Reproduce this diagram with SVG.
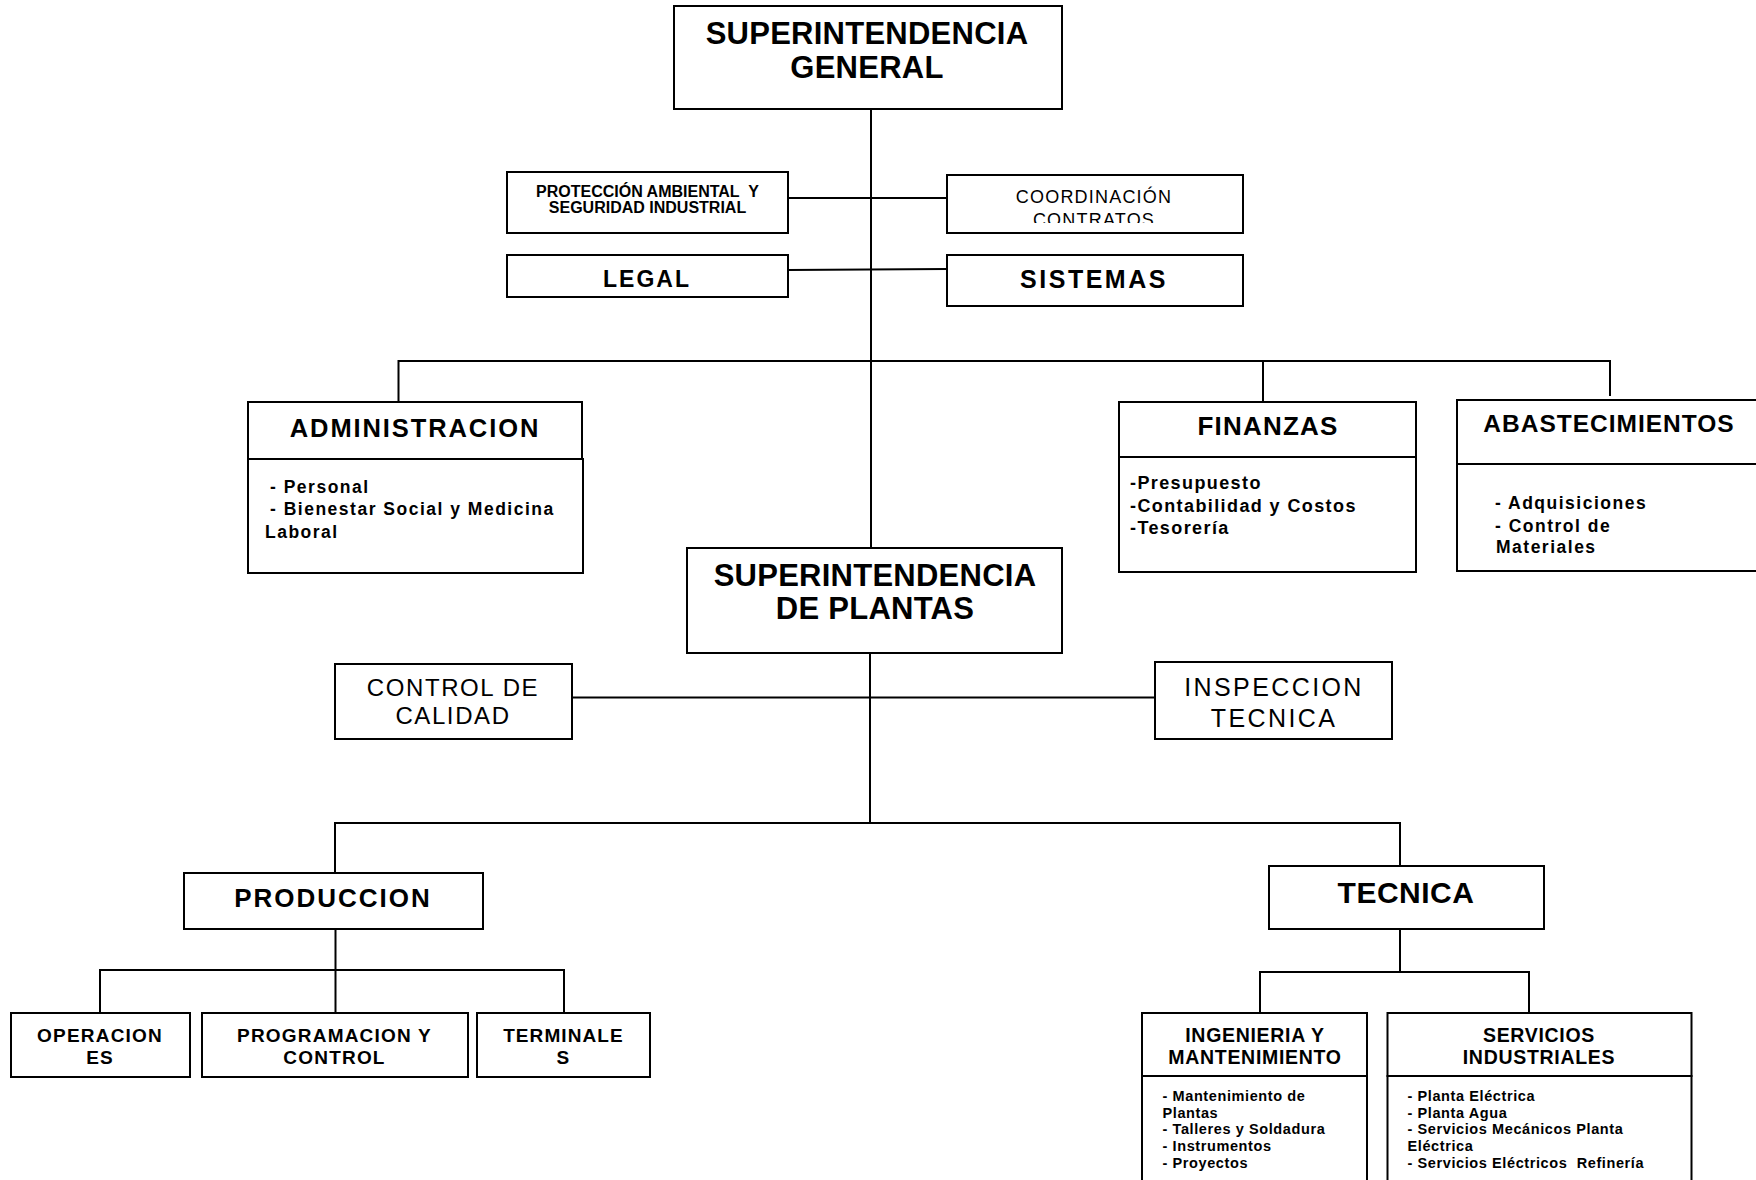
<svg xmlns="http://www.w3.org/2000/svg" width="1756" height="1180" viewBox="0 0 1756 1180">
  <style>
    .box { fill: #fff; stroke: #000; stroke-width: 2; }
    .wire { fill: none; stroke: #000; stroke-width: 2; }
    text { font-family: "Liberation Sans", Arial, sans-serif; fill: #000; }
    .b { font-weight: bold; }
    .mid { text-anchor: middle; }
  </style>
  <defs>
    <clipPath id="coordClip">
      <rect x="948" y="176" width="294" height="47"/>
    </clipPath>
  </defs>
  <rect width="1756" height="1180" fill="#fff"/>

  <!-- connectors -->
  <g id="connectors" class="wire">
    <line x1="871" y1="110" x2="871" y2="548"/>
    <line x1="788" y1="198" x2="947" y2="198"/>
    <line x1="788" y1="270" x2="947" y2="269"/>
    <polyline points="398.5,402 398.5,361 1610,361 1610,396"/>
    <line x1="1263" y1="361" x2="1263" y2="402"/>
    <line x1="870" y1="653" x2="870" y2="823"/>
    <line x1="572" y1="697.5" x2="1155" y2="697.5"/>
    <polyline points="335,873 335,823 1400,823 1400,866"/>
    <line x1="335.5" y1="929" x2="335.5" y2="1013"/>
    <polyline points="100,1013 100,970 564,970 564,1013"/>
    <line x1="1400" y1="929" x2="1400" y2="972"/>
    <polyline points="1260,1013 1260,972 1529,972 1529,1013"/>
  </g>

  <!-- top level -->
  <g id="superintendencia-general">
    <rect class="box" x="674" y="6" width="388" height="103"/>
    <text class="b mid" x="867" y="44" font-size="31" letter-spacing="0.25">SUPERINTENDENCIA</text>
    <text class="b mid" x="867" y="78" font-size="31" letter-spacing="0.25">GENERAL</text>
  </g>

  <g id="proteccion-ambiental">
    <rect class="box" x="507" y="172" width="281" height="61"/>
    <text class="b mid" x="647.5" y="197" font-size="16">PROTECCIÓN AMBIENTAL&#160; Y</text>
    <text class="b mid" x="647.5" y="213" font-size="16">SEGURIDAD INDUSTRIAL</text>
  </g>

  <g id="coordinacion-contratos">
    <rect class="box" x="947" y="175" width="296" height="58"/>
    <g clip-path="url(#coordClip)">
      <text class="mid" x="1094" y="203" font-size="18" letter-spacing="1.2">COORDINACIÓN</text>
      <text class="mid" x="1094" y="226" font-size="18" letter-spacing="1.2">CONTRATOS</text>
    </g>
  </g>

  <g id="legal">
    <rect class="box" x="507" y="255" width="281" height="42"/>
    <text class="b mid" x="647" y="287" font-size="23" letter-spacing="2">LEGAL</text>
  </g>

  <g id="sistemas">
    <rect class="box" x="947" y="255" width="296" height="51"/>
    <text class="b mid" x="1094" y="288" font-size="25" letter-spacing="2.5">SISTEMAS</text>
  </g>

  <!-- second level departments -->
  <g id="administracion">
    <rect class="box" x="248" y="402" width="334" height="57"/>
    <rect class="box" x="248" y="459" width="335" height="114"/>
    <text class="b mid" x="415" y="437" font-size="25.5" letter-spacing="1.9">ADMINISTRACION</text>
    <text class="b" font-size="17.5" letter-spacing="1.5">
      <tspan x="270" y="493">- Personal</tspan>
      <tspan x="270" y="515">- Bienestar Social y Medicina</tspan>
      <tspan x="265" y="538">Laboral</tspan>
    </text>
  </g>

  <g id="finanzas">
    <rect class="box" x="1119" y="402" width="297" height="55"/>
    <rect class="box" x="1119" y="457" width="297" height="115"/>
    <text class="b mid" x="1268" y="435" font-size="26" letter-spacing="1.2">FINANZAS</text>
    <text class="b" font-size="18" letter-spacing="1.4">
      <tspan x="1130" y="489">-Presupuesto</tspan>
      <tspan x="1130" y="512">-Contabilidad y Costos</tspan>
      <tspan x="1130" y="534">-Tesorería</tspan>
    </text>
  </g>

  <g id="abastecimientos">
    <rect class="box" x="1457" y="400" width="320" height="64"/>
    <rect class="box" x="1457" y="464" width="320" height="107"/>
    <text class="b mid" x="1609" y="432" font-size="24.5" letter-spacing="1">ABASTECIMIENTOS</text>
    <text class="b" font-size="17.5" letter-spacing="1.5">
      <tspan x="1495" y="509">- Adquisiciones</tspan>
      <tspan x="1495" y="531.5">- Control de</tspan>
      <tspan x="1496" y="553">Materiales</tspan>
    </text>
  </g>

  <!-- plant superintendency -->
  <g id="superintendencia-plantas">
    <rect class="box" x="687" y="548" width="375" height="105"/>
    <text class="b mid" x="875" y="586" font-size="31" letter-spacing="0.25">SUPERINTENDENCIA</text>
    <text class="b mid" x="875" y="619" font-size="31" letter-spacing="0.25">DE PLANTAS</text>
  </g>

  <g id="control-calidad">
    <rect class="box" x="335" y="664" width="237" height="75"/>
    <text class="mid" x="453" y="696" font-size="24" letter-spacing="1.6">CONTROL DE</text>
    <text class="mid" x="453" y="724" font-size="24" letter-spacing="1.6">CALIDAD</text>
  </g>

  <g id="inspeccion-tecnica">
    <rect class="box" x="1155" y="662" width="237" height="77"/>
    <text class="mid" x="1274" y="696" font-size="25" letter-spacing="2.4">INSPECCION</text>
    <text class="mid" x="1274" y="727" font-size="25" letter-spacing="2.4">TECNICA</text>
  </g>

  <!-- production branch -->
  <g id="produccion">
    <rect class="box" x="184" y="873" width="299" height="56"/>
    <text class="b mid" x="333" y="907" font-size="26" letter-spacing="2">PRODUCCION</text>
  </g>

  <g id="operaciones">
    <rect class="box" x="11" y="1013" width="179" height="64"/>
    <text class="b mid" x="100" y="1042" font-size="19" letter-spacing="1.2">OPERACION</text>
    <text class="b mid" x="100" y="1064" font-size="19" letter-spacing="1.2">ES</text>
  </g>

  <g id="programacion-control">
    <rect class="box" x="202" y="1013" width="266" height="64"/>
    <text class="b mid" x="334.5" y="1042" font-size="19" letter-spacing="1.2">PROGRAMACION Y</text>
    <text class="b mid" x="334.5" y="1064" font-size="19" letter-spacing="1.2">CONTROL</text>
  </g>

  <g id="terminales">
    <rect class="box" x="477" y="1013" width="173" height="64"/>
    <text class="b mid" x="563.5" y="1042" font-size="19" letter-spacing="1.1">TERMINALE</text>
    <text class="b mid" x="563.5" y="1064" font-size="19" letter-spacing="1.1">S</text>
  </g>

  <!-- technical branch -->
  <g id="tecnica">
    <rect class="box" x="1269" y="866" width="275" height="63"/>
    <text class="b mid" x="1406" y="903" font-size="30" letter-spacing="0.5">TECNICA</text>
  </g>

  <g id="ingenieria-mantenimiento">
    <rect class="box" x="1142" y="1013" width="225" height="63"/>
    <rect class="box" x="1142" y="1076" width="225" height="120"/>
    <text class="b mid" x="1255" y="1042" font-size="19.5" letter-spacing="0.7">INGENIERIA Y</text>
    <text class="b mid" x="1255" y="1064" font-size="19.5" letter-spacing="0.7">MANTENIMIENTO</text>
    <text class="b" font-size="14.5" letter-spacing="0.6">
      <tspan x="1162.5" y="1100.5">- Mantenimiento de</tspan>
      <tspan x="1162.5" y="1117.5">Plantas</tspan>
      <tspan x="1162.5" y="1134">- Talleres y Soldadura</tspan>
      <tspan x="1162.5" y="1151">- Instrumentos</tspan>
      <tspan x="1162.5" y="1167.5">- Proyectos</tspan>
    </text>
  </g>

  <g id="servicios-industriales">
    <rect class="box" x="1387.5" y="1013" width="304" height="63"/>
    <rect class="box" x="1387.5" y="1076" width="304" height="120"/>
    <text class="b mid" x="1539" y="1042" font-size="19.5" letter-spacing="0.7">SERVICIOS</text>
    <text class="b mid" x="1539" y="1064" font-size="19.5" letter-spacing="0.7">INDUSTRIALES</text>
    <text class="b" font-size="14.5" letter-spacing="0.6">
      <tspan x="1407.5" y="1100.5">- Planta Eléctrica</tspan>
      <tspan x="1407.5" y="1117.5">- Planta Agua</tspan>
      <tspan x="1407.5" y="1134">- Servicios Mecánicos Planta</tspan>
      <tspan x="1407.5" y="1151">Eléctrica</tspan>
      <tspan x="1407.5" y="1167.5">- Servicios Eléctricos&#160; Refinería</tspan>
    </text>
  </g>
</svg>
